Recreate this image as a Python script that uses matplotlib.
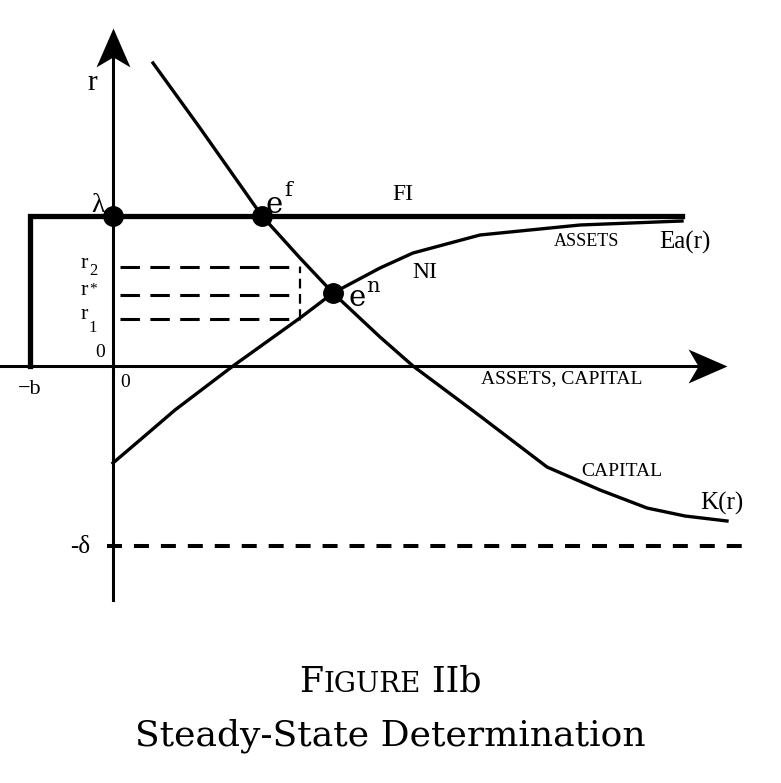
import matplotlib
matplotlib.use("Agg")
import matplotlib.pyplot as plt
from matplotlib.path import Path
from matplotlib.offsetbox import TextArea, HPacker, AnnotationBbox

plt.rcParams['lines.scale_dashes'] = False

# Schematic values (origin at the axes crossing, 1 unit ~ 100 px of the drawing)
lam = 1.50          # world interest rate, FI line
b = 0.83            # borrowing limit
delta = 1.80        # depreciation
r_2 = 0.99
r_star = 0.71
r_1 = 0.47
fi_end = 5.69
ef_x = 1.49
en = (2.20, 0.73)

capital_x = [0.40, 0.87, 1.49, 1.87, 2.20, 2.67, 3.00, 3.67, 4.34, 4.87, 5.34, 5.72, 6.14]
capital_y = [3.03, 2.38, 1.50, 1.08, 0.73, 0.29, 0.00, -0.50, -1.01, -1.24, -1.42, -1.50, -1.55]

assets_x = [0.00, 0.27, 0.62, 1.20, 1.87, 2.20, 2.67, 3.00, 3.67, 4.67, 5.69]
assets_y = [-0.97, -0.74, -0.44, 0.00, 0.48, 0.73, 0.98, 1.13, 1.31, 1.41, 1.45]

dash_end = 1.87     # where the r1/r*/r2 guides stop
x_min, x_max = -1.13, 6.68
y_min, y_max = -4.17, 3.66
y_axis_bottom = -2.34
y_axis_top = 3.38
x_axis_right = 6.14

fig = plt.figure(figsize=(7.81, 7.83), dpi=100)
ax = fig.add_axes([0, 0, 1, 1])
ax.set_xlim(x_min, x_max)
ax.set_ylim(y_min, y_max)
ax.axis('off')

# axes lines with stealth-like arrow heads (tip at the marker origin)
head_up = Path([(0, 0), (-17, -39), (0, -29), (17, -39), (0, 0)],
               [Path.MOVETO, Path.LINETO, Path.LINETO, Path.LINETO, Path.CLOSEPOLY])
head_right = Path([(0, 0), (-39, 17), (-29, 0), (-39, -17), (0, 0)],
                  [Path.MOVETO, Path.LINETO, Path.LINETO, Path.LINETO, Path.CLOSEPOLY])
ax.plot([0, 0], [y_axis_bottom, y_axis_top - 0.2], color='black', lw=2.2)
ax.plot([x_min, x_axis_right - 0.2], [0, 0], color='black', lw=2.2)
ax.plot(0, y_axis_top, marker=head_up, ms=56, color='black', mew=0)
ax.plot(x_axis_right, 0, marker=head_right, ms=56, color='black', mew=0)

# FI line with the -b corner
ax.plot([-b, -b, fi_end], [0, lam, lam], color='black', lw=3.8, solid_joinstyle='miter')

# curves
ax.plot(capital_x, capital_y, color='black', lw=2.4)
ax.plot(assets_x, assets_y, color='black', lw=2.4)

# dashed guides
for r in [r_2, r_star, r_1]:
    ax.plot([0.07, dash_end], [r, r], color='black', lw=2.2, linestyle=(0, (14, 7.5)))
ax.plot([dash_end, dash_end], [r_1, r_2], color='black', lw=1.6, linestyle=(0, (7, 4)))
ax.plot([-0.06, x_axis_right + 0.24], [-delta, -delta], color='black', lw=2.9,
        linestyle=(0, (10.8, 8.6)))

# equilibrium dots
ax.plot([0, ef_x, en[0]], [lam, lam, en[1]], 'o', color='black', ms=14, zorder=4)

serif = 'Liberation Serif'
big = 'DejaVu Serif'
kw = dict(ha='center', va='center', color='black')
ax.text(-0.21, 2.83, 'r', family=serif, fontsize=21, **kw)
ax.text(-0.15, 1.61, 'λ', family=serif, fontsize=20, **kw)
ax.text(1.61, 1.61, 'e', family=big, fontsize=21, **kw)
ax.text(1.75, 1.76, 'f', family=big, fontsize=15, **kw)
ax.text(2.44, 0.68, 'e', family=big, fontsize=21, **kw)
ax.text(2.60, 0.79, 'n', family=big, fontsize=15, **kw)

for r, sub, dy, fs in [(r_2, '2', -0.04, 12), (r_star, '*', 0.06, 11), (r_1, '1', -0.09, 12)]:
    ax.text(-0.29, r + 0.04, 'r', family=serif, fontsize=16, **kw)
    ax.text(-0.20, r + dy, sub, family=serif, fontsize=fs, **kw)

ax.text(-0.13, 0.13, '0', family=serif, fontsize=14, **kw)
ax.text(0.12, -0.17, '0', family=serif, fontsize=14, **kw)
ax.text(-0.83, -0.24, '−b', family=serif, fontsize=16, **kw)
ax.text(-0.33, -1.81, '-δ', family=serif, fontsize=18, **kw)

ax.text(2.90, 1.71, 'FI', family=serif, fontsize=17, **kw)
ax.text(3.12, 0.93, 'NI', family=serif, fontsize=17, **kw)
ax.text(4.74, 1.25, 'ASSETS', family=serif, fontsize=13, **kw)
ax.text(5.72, 1.24, 'Ea(r)', family=serif, fontsize=18, **kw)
ax.text(4.49, -0.13, 'ASSETS, CAPITAL', family=serif, fontsize=14, **kw)
ax.text(5.09, -1.06, 'CAPITAL', family=serif, fontsize=14, **kw)
ax.text(6.09, -1.37, 'K(r)', family=serif, fontsize=18, **kw)

# caption with small caps
tsize = 25
parts = [('F', tsize), ('IGURE', tsize * 0.8), (' IIb', tsize)]
box = HPacker(children=[TextArea(s, textprops=dict(family=big, fontsize=fs))
                        for s, fs in parts],
              align='baseline', pad=0, sep=0)
ax.add_artist(AnnotationBbox(box, (0.5, 1 - 682 / 783), xycoords='figure fraction',
                             frameon=False, box_alignment=(0.5, 0.5)))
fig.text(0.5, 1 - 736 / 783, 'Steady-State Determination', family=big,
         fontsize=26, ha='center', va='center')

fig.savefig('out.png', dpi=100, facecolor='white')
